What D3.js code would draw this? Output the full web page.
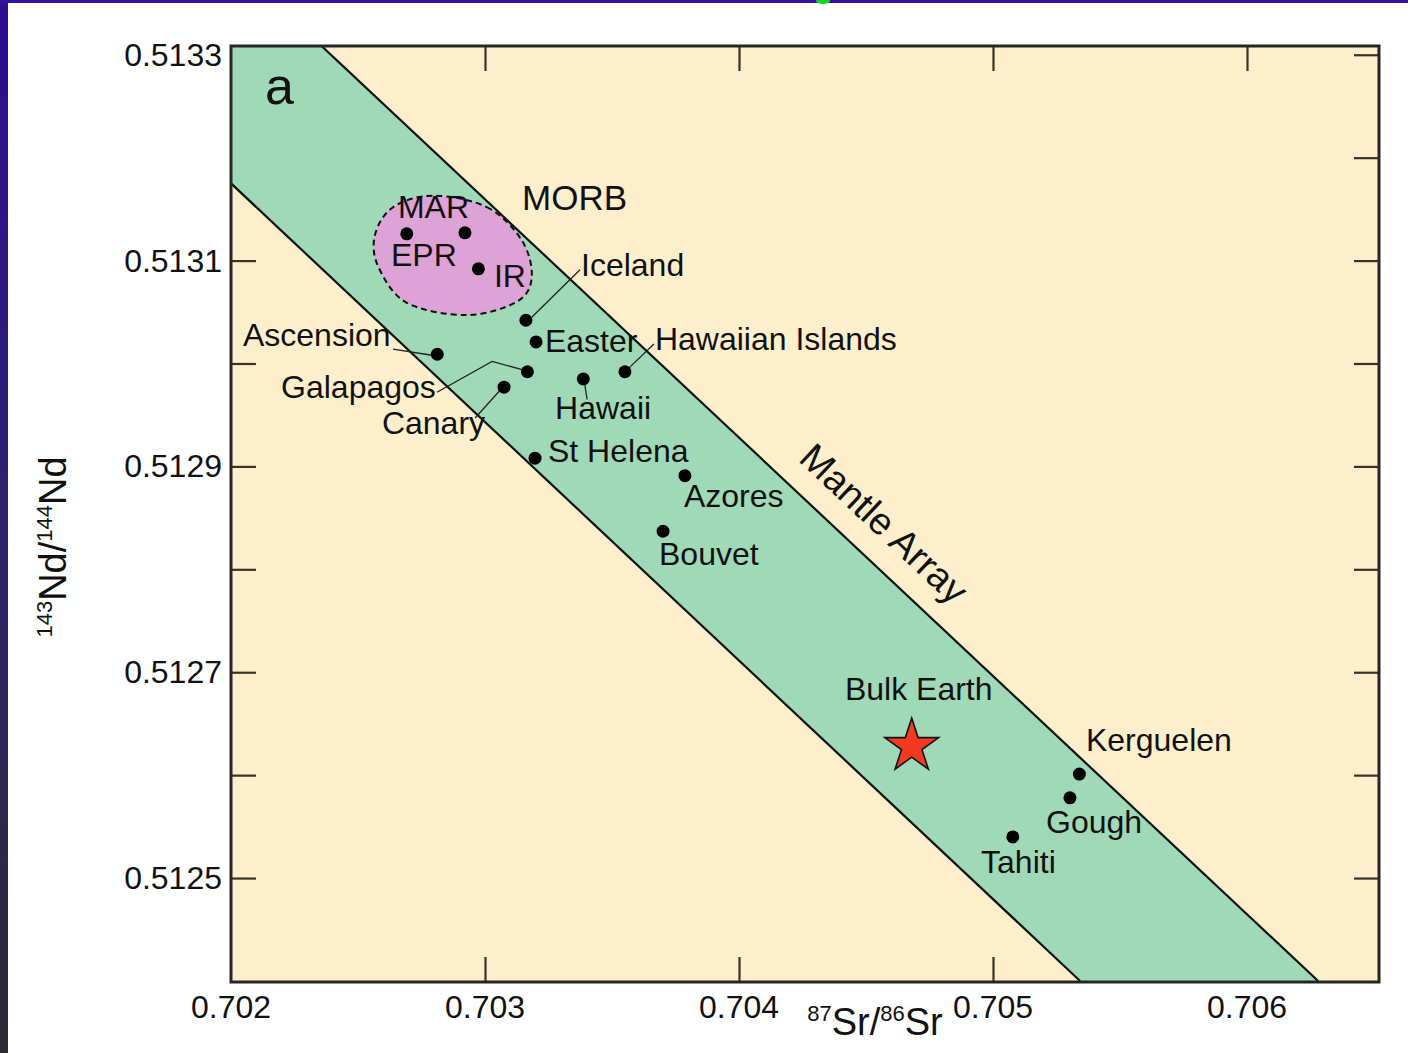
<!DOCTYPE html>
<html>
<head>
<meta charset="utf-8">
<script src="https://cdn.jsdelivr.net/npm/d3@7/dist/d3.min.js"></script>
<style>
  html, body { margin: 0; padding: 0; background: #fff; }
  svg { display: block; }
  text { font-family: "Liberation Sans", Arial, Helvetica, sans-serif; fill: #111; }
</style>
</head>
<body>
<svg id="chart" width="1408" height="1053"></svg>
<script>
// ---------- data ----------
const xTickValues = [0.702, 0.703, 0.704, 0.705, 0.706];
const xTickLabels = ["0.702", "0.703", "0.704", "0.705", "0.706"];
const yTickValues = [0.5125, 0.5127, 0.5129, 0.5131, 0.5133];
const yTickLabels = ["0.5125", "0.5127", "0.5129", "0.5131", "0.5133"];
const yMinorTicks = [0.5126, 0.5128, 0.5130, 0.5132];

// Mantle array band (Sr, Nd) edges
const bandUpper = [[0.70235, 0.51331], [0.70628, 0.5124]];
const bandLower = [[0.702, 0.513175], [0.705343, 0.5124]];

// MORB field outline
const morbOutline = [
  [0.702796, 0.513163], [0.703007, 0.513152], [0.703144, 0.513120], [0.703184, 0.513084],
  [0.703125, 0.513060], [0.702928, 0.513047], [0.702692, 0.513059], [0.702580, 0.513094],
  [0.702567, 0.513125], [0.702639, 0.513152]
];

// Sample points
const pointNames = ["EPR", "MAR", "IR", "Iceland", "Easter", "Ascension", "Galapagos", "Canary",
  "Hawaii", "Hawaiian Islands", "St Helena", "Azores", "Bouvet", "Kerguelen", "Gough", "Tahiti"];
const pointSr = [0.702692, 0.702921, 0.702974, 0.703161, 0.703201, 0.702812, 0.703167, 0.703075,
  0.703387, 0.703551, 0.703197, 0.703787, 0.703701, 0.705340, 0.705303, 0.705078];
const pointNd = [0.513126, 0.513127, 0.513092, 0.513042, 0.513021, 0.513009, 0.512992, 0.512977,
  0.512985, 0.512992, 0.512908, 0.512891, 0.512837, 0.512601, 0.512578, 0.512540];

const bulkEarth = [0.704680, 0.512628];

// Labels: text, Sr, Nd (baseline start)
const labelText = ["MORB", "MAR", "EPR", "IR", "Iceland", "Easter", "Hawaiian Islands", "Ascension",
  "Galapagos", "Canary", "Hawaii", "St Helena", "Azores", "Bouvet", "Bulk Earth", "Kerguelen", "Gough", "Tahiti"];
const labelSr = [0.703146, 0.702657, 0.702630, 0.703035, 0.703378, 0.703236, 0.703669, 0.702047,
  0.702197, 0.702594, 0.703276, 0.703248, 0.703783, 0.703685, 0.704417, 0.705366, 0.705209, 0.704953];
const labelNd = [0.513149, 0.513141, 0.513095, 0.513074, 0.513085, 0.513011, 0.513013, 0.513017,
  0.512966, 0.512931, 0.512946, 0.512904, 0.512861, 0.512804, 0.512673, 0.512623, 0.512544, 0.512505];

// Leader lines
const leaders = [
  [[0.703184, 0.513045], [0.703374, 0.513091]],               // Iceland
  [[0.703564, 0.512995], [0.703665, 0.513019]],               // Hawaiian Islands
  [[0.702638, 0.513014], [0.702791, 0.513008]],               // Ascension
  [[0.702811, 0.512972], [0.703028, 0.513002], [0.703146, 0.512994]], // Galapagos
  [[0.702961, 0.512947], [0.703063, 0.512975]],               // Canary
  [[0.703390, 0.512984], [0.703402, 0.512965]]                // Hawaii
];

const mantleLabel = { text: "Mantle Array", sr: 0.704536, nd: 0.512835 };
const panelLabel = { text: "a", sr: 0.702134, nd: 0.513252 };

// ---------- layout ----------
const W = 1408, H = 1053;
const L = 231, R = 1379, T = 46, B = 982;
const svg = d3.select("#chart");

const x = d3.scaleLinear().domain([0.702, 0.7065197]).range([L, R]);
const y = d3.scaleLinear().domain([0.512399, 0.5133085]).range([B, T]);

// page decoration: borders
const defs = svg.append("defs");
const grad = defs.append("linearGradient").attr("id", "lborder").attr("x1", 0).attr("x2", 0).attr("y1", 0).attr("y2", 1);
grad.append("stop").attr("offset", "0%").attr("stop-color", "#2e0c93");
grad.append("stop").attr("offset", "55%").attr("stop-color", "#2c2468");
grad.append("stop").attr("offset", "100%").attr("stop-color", "#2a2a33");
svg.append("rect").attr("x", 0).attr("y", 0).attr("width", W).attr("height", H).attr("fill", "#ffffff");
svg.append("rect").attr("x", 0).attr("y", 0).attr("width", 8).attr("height", H).attr("fill", "url(#lborder)");
svg.append("rect").attr("x", 0).attr("y", 0).attr("width", W).attr("height", 3).attr("fill", "#3410a0");
svg.append("ellipse").attr("cx", 823).attr("cy", 1).attr("rx", 7).attr("ry", 3).attr("fill", "#19d12a");

defs.append("clipPath").attr("id", "plotclip")
  .append("rect").attr("x", L).attr("y", T).attr("width", R - L).attr("height", B - T);

const plot = svg.append("g").attr("clip-path", "url(#plotclip)");
plot.append("rect").attr("x", L).attr("y", T).attr("width", R - L).attr("height", B - T).attr("fill", "#fdefcb");

// ticks (inward) drawn under the band
const tickLen = 25;
const axTop = d3.axisBottom(x).tickValues(xTickValues.slice(1)).tickSize(tickLen).tickFormat("");
const axBottom = d3.axisTop(x).tickValues(xTickValues.slice(1)).tickSize(tickLen).tickFormat("");
const allY = yTickValues.concat(yMinorTicks);
const axLeft = d3.axisRight(y).tickValues(allY).tickSize(tickLen).tickFormat("");
const axRight = d3.axisLeft(y).tickValues(allY).tickSize(tickLen).tickFormat("");
const tickG = plot.append("g");
tickG.append("g").attr("transform", `translate(0,${T})`).call(axTop);
tickG.append("g").attr("transform", `translate(0,${B})`).call(axBottom);
tickG.append("g").attr("transform", `translate(${L},0)`).call(axLeft);
tickG.append("g").attr("transform", `translate(${R},0)`).call(axRight);
tickG.selectAll(".domain").remove();
tickG.selectAll(".tick line").attr("stroke", "#3a3226").attr("stroke-width", 2.2);

// band
const bandPoly = [bandUpper[0], bandUpper[1], bandLower[1], bandLower[0], [0.702, 0.5133085]];
const lineGen = d3.line().x(d => x(d[0])).y(d => y(d[1]));
plot.append("path").attr("d", lineGen(bandPoly) + "Z").attr("fill", "#a0d9b8");
plot.append("path").attr("d", lineGen(bandUpper)).attr("stroke", "#111").attr("stroke-width", 2.2).attr("fill", "none");
plot.append("path").attr("d", lineGen(bandLower)).attr("stroke", "#111").attr("stroke-width", 2.2).attr("fill", "none");

// MORB field
plot.append("path")
  .attr("d", d3.line().x(d => x(d[0])).y(d => y(d[1])).curve(d3.curveCardinalClosed.tension(0))(morbOutline))
  .attr("fill", "#dea3d6").attr("stroke", "#111").attr("stroke-width", 2)
  .attr("stroke-dasharray", "6,4");

// leaders
leaders.forEach(l => {
  plot.append("path").attr("d", lineGen(l)).attr("stroke", "#222").attr("stroke-width", 1.3).attr("fill", "none");
});

// points
plot.selectAll("circle.pt").data(pointSr.map((s, i) => [s, pointNd[i]]))
  .enter().append("circle").attr("class", "pt")
  .attr("cx", d => x(d[0])).attr("cy", d => y(d[1])).attr("r", 6.5).attr("fill", "#000");

// bulk earth star
plot.append("path")
  .attr("d", d3.symbol().type(d3.symbolStar).size(900)())
  .attr("transform", `translate(${x(bulkEarth[0])},${y(bulkEarth[1])})`)
  .attr("fill", "#f23a20").attr("stroke", "#111").attr("stroke-width", 1.6);

// labels
plot.selectAll("text.lab").data(labelText.map((t, i) => ({ t, sr: labelSr[i], nd: labelNd[i] })))
  .enter().append("text").attr("class", "lab")
  .attr("x", d => x(d.sr)).attr("y", d => y(d.nd))
  .attr("font-size", d => d.t === "MORB" ? 35 : 32).text(d => d.t);

// mantle array label, rotated along band edge
const ang = Math.atan2(y(bandUpper[1][1]) - y(bandUpper[0][1]), x(bandUpper[1][0]) - x(bandUpper[0][0])) * 180 / Math.PI;
plot.append("text")
  .attr("transform", `translate(${x(mantleLabel.sr)},${y(mantleLabel.nd)}) rotate(${ang})`)
  .attr("text-anchor", "middle").attr("font-size", 38).text(mantleLabel.text);

plot.append("text").attr("x", x(panelLabel.sr)).attr("y", y(panelLabel.nd))
  .attr("font-size", 52).text(panelLabel.text);

// frame
svg.append("rect").attr("x", L).attr("y", T).attr("width", R - L).attr("height", B - T)
  .attr("fill", "none").attr("stroke", "#262626").attr("stroke-width", 3);

// tick labels
svg.selectAll("text.xl").data(xTickValues).enter().append("text").attr("class", "xl")
  .attr("x", d => x(d)).attr("y", 1018).attr("text-anchor", "middle").attr("font-size", 32)
  .text((d, i) => xTickLabels[i]);
svg.selectAll("text.yl").data(yTickValues).enter().append("text").attr("class", "yl")
  .attr("x", 222).attr("y", d => y(d) + 11).attr("text-anchor", "end").attr("font-size", 32)
  .text((d, i) => yTickLabels[i]);

// axis titles
const xt = svg.append("text").attr("x", 875).attr("y", 1035).attr("text-anchor", "middle").attr("font-size", 38);
xt.append("tspan").attr("font-size", 22).attr("dy", -14).text("87");
xt.append("tspan").attr("dy", 14).text("Sr/");
xt.append("tspan").attr("font-size", 22).attr("dy", -14).text("86");
xt.append("tspan").attr("dy", 14).text("Sr");

const yt = svg.append("text").attr("transform", "translate(66,547) rotate(-90)").attr("text-anchor", "middle").attr("font-size", 38);
yt.append("tspan").attr("font-size", 22).attr("dy", -14).text("143");
yt.append("tspan").attr("dy", 14).text("Nd/");
yt.append("tspan").attr("font-size", 22).attr("dy", -14).text("144");
yt.append("tspan").attr("dy", 14).text("Nd");
</script>
</body>
</html>
